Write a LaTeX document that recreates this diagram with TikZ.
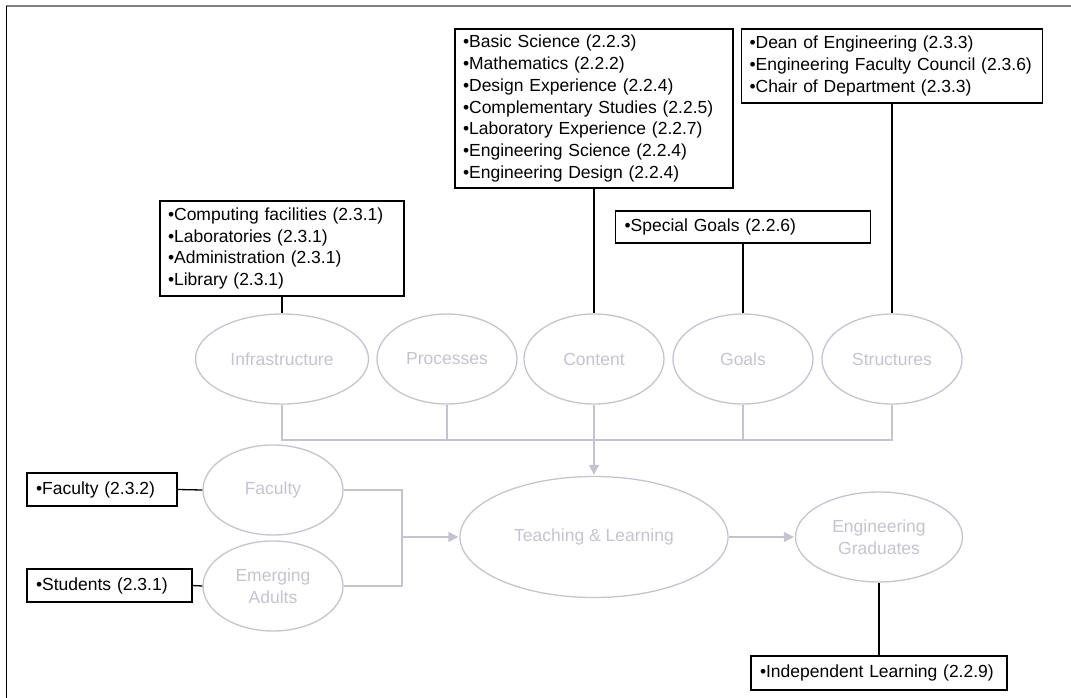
\documentclass[tikz,border=0pt]{standalone}
\usepackage{fontspec}
\setmainfont{Liberation Sans}
\usetikzlibrary{shapes.geometric,arrows.meta}
\definecolor{soft}{RGB}{196,196,208}
\definecolor{rulegray}{RGB}{128,128,128}
\begin{document}
\begin{tikzpicture}[x=1pt,y=-1pt,
  txt/.style={font=\fontsize{17.5}{21.7}\selectfont},
  box/.style={txt,draw=black,line width=1.3pt,inner xsep=8pt,inner ysep=0pt,align=left,fill=white},
  oval/.style={txt,ellipse,draw=soft,text=soft,line width=1.3pt,inner sep=0pt,align=center},
  link/.style={draw=black,line width=1.3pt},
  flow/.style={draw=soft,line width=1.3pt},
  flowarrow/.style={flow,-{Triangle[length=10pt,width=10pt]},shorten >=1pt}]
\useasboundingbox (0,0) rectangle (1071,698);
% frame
\draw[rulegray,line width=2pt] (6,6) -- (1071,6);
\draw[black,line width=1pt] (6,6) -- (6,698);

% context ovals
\node[oval,minimum width=173pt,minimum height=90pt] (inf)  at (282,359) {Infrastructure};
\node[oval,minimum width=140pt,minimum height=90pt] (proc) at (447,359) {Processes};
\node[oval,minimum width=140pt,minimum height=90pt] (cont) at (594,359) {Content};
\node[oval,minimum width=140pt,minimum height=90pt] (goal) at (743,359) {Goals};
\node[oval,minimum width=140pt,minimum height=90pt] (str)  at (892,359) {Structures};
\node[oval,minimum width=140pt,minimum height=90pt] (fac)  at (273,490) {Faculty};
\node[oval,minimum width=140pt,minimum height=90pt] (emg)  at (273,586) {Emerging\\Adults};
\node[oval,minimum width=268pt,minimum height=121pt] (tl)  at (594,537) {Teaching \& Learning};
\node[oval,minimum width=167pt,minimum height=90pt] (grad) at (879,537) {Engineering\\Graduates};

% criteria boxes
\node[box,text width=228pt,minimum height=95pt] (infbox) at (282,248.5)
  {•Computing facilities (2.3.1)\\•Laboratories (2.3.1)\\•Administration (2.3.1)\\•Library (2.3.1)};
\node[box,text width=262pt,minimum height=159pt] (contbox) at (594,108.5)
  {•Basic Science (2.2.3)\\•Mathematics (2.2.2)\\•Design Experience (2.2.4)\\•Complementary Studies (2.2.5)\\•Laboratory Experience (2.2.7)\\•Engineering Science (2.2.4)\\•Engineering Design (2.2.4)};
\node[box,text width=285pt,minimum height=74pt] (strbox) at (892,66)
  {•Dean of Engineering (2.3.3)\\•Engineering Faculty Council (2.3.6)\\•Chair of Department (2.3.3)};
\node[box,text width=237pt,minimum height=32pt,inner xsep=9pt] (goalbox) at (743,227)
  {•Special Goals (2.2.6)};
\node[box,text width=132pt,minimum height=33pt,inner xsep=9pt] (facbox) at (102,489.5)
  {•Faculty (2.3.2)};
\node[box,text width=147pt,minimum height=33pt,inner xsep=9pt] (stubox) at (109.5,585.5)
  {•Students (2.3.1)};
\node[box,text width=238pt,minimum height=34pt,inner xsep=9pt] (indbox) at (879,673)
  {•Independent Learning (2.2.9)};

% box-to-oval links
\draw[link] (infbox.south) -- (inf.north);
\draw[link] (contbox.south) -- (cont.north);
\draw[link] (goalbox.south) -- (goal.north);
\draw[link] (strbox.south) -- (str.north);
\draw[link] (facbox.east) -- (fac.west);
\draw[link] (stubox.east) -- (emg.west);
\draw[link] (grad.south) -- (indbox.north);

% flow into teaching and learning
\coordinate (bus) at (594,440);
\draw[flow] (inf.south) -- (inf.south |- bus) -- (str.south |- bus) -- (str.south);
\draw[flow] (proc.south) -- (proc.south |- bus);
\draw[flow] (goal.south) -- (goal.south |- bus);
\draw[flowarrow] (cont.south) -- (tl.north);

\coordinate (join) at (402,537);
\draw[flow] (fac.east) -- (fac.east -| join) -- (emg.east -| join) -- (emg.east);
\draw[flowarrow] (join) -- (tl.west);
\draw[flowarrow] (tl.east) -- (grad.west);
\end{tikzpicture}
\end{document}
